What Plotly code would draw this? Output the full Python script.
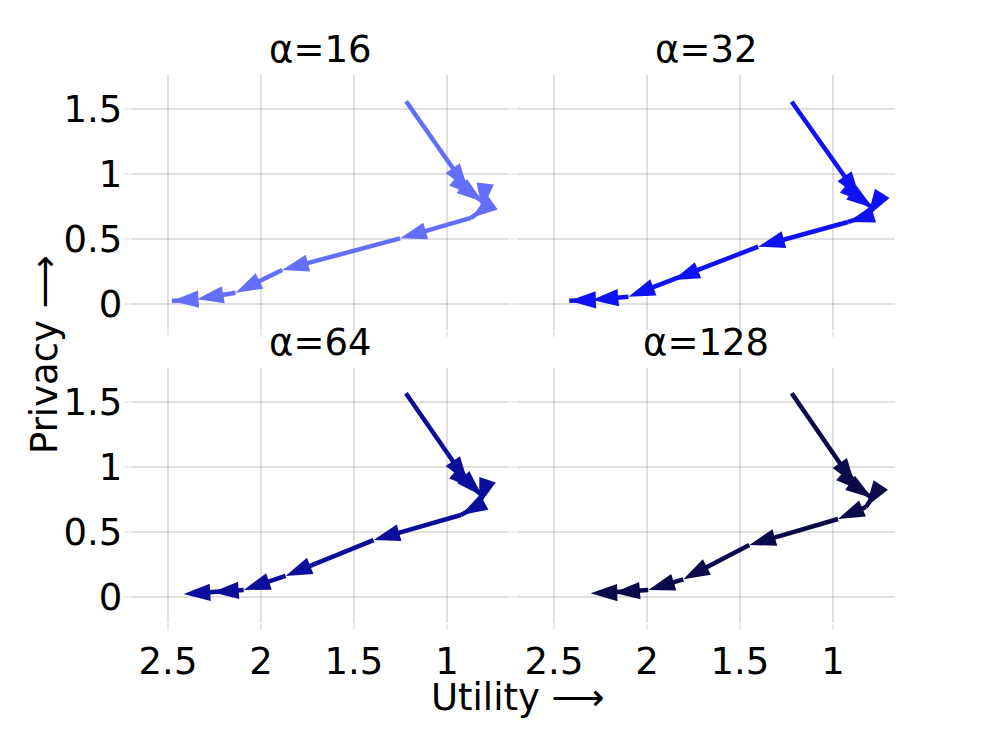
import plotly.graph_objects as go

alphas = ["α=16", "α=32", "α=64", "α=128"]
colors = ["#636EFA", "#0F12F4", "#0B0E9A", "#0A0A4B"]

utility_16 = [1.22, 0.887, 0.849, 0.806, 0.811, 0.871, 1.252, 1.886, 2.137, 2.344, 2.479]
privacy_16 = [1.56, 0.877, 0.831, 0.785, 0.723, 0.662, 0.505, 0.262, 0.087, 0.036, 0.023]

utility_32 = [1.222, 0.855, 0.823, 0.785, 0.812, 0.919, 1.402, 1.859, 2.10, 2.297, 2.418]
privacy_32 = [1.556, 0.815, 0.777, 0.738, 0.677, 0.631, 0.441, 0.185, 0.056, 0.031, 0.025]

utility_64 = [1.221, 0.887, 0.849, 0.811, 0.827, 0.925, 1.395, 1.868, 2.093, 2.263, 2.416]
privacy_64 = [1.567, 0.877, 0.831, 0.777, 0.708, 0.631, 0.438, 0.162, 0.054, 0.036, 0.023]

utility_128 = [1.222, 0.882, 0.844, 0.79, 0.823, 0.973, 1.45, 1.805, 1.993, 2.181, 2.303]
privacy_128 = [1.567, 0.862, 0.815, 0.762, 0.692, 0.60, 0.40, 0.136, 0.054, 0.033, 0.028]

x_ticks = [2.5, 2, 1.5, 1]
x_tick_labels = ["2.5", "2", "1.5", "1"]
y_ticks = [0, 0.5, 1, 1.5]
y_tick_labels = ["0", "0.5", "1", "1.5"]

series = [(utility_16, privacy_16), (utility_32, privacy_32),
          (utility_64, privacy_64), (utility_128, privacy_128)]

W, H = 996, 747
FONT = "DejaVu Sans"
FS = 37

# domains in paper coords (page has an 8px body margin)
xdom = [[122.8 / W, 501.3 / W], [508.8 / W, 887.3 / W]]
ydom = [[1 - 322 / H, 1 - 67.2 / H], [1 - 615 / H, 1 - 360.2 / H]]

fig = go.Figure()
for i, ((xs, ys), c) in enumerate(zip(series, colors)):
    r, col = divmod(i, 2)
    ax = "" if i == 0 else str(i + 1)
    sizes = [0] + [28] * (len(xs) - 1)
    fig.add_trace(go.Scatter(
        x=xs, y=ys, mode="lines+markers",
        line=dict(color=c, width=4.5),
        marker=dict(symbol="arrow", angleref="previous", size=sizes, color=c,
                    opacity=1, line=dict(width=0)),
        xaxis="x" + ax, yaxis="y" + ax, showlegend=False,
        hoverinfo="skip",
    ))
    axis_common = dict(showgrid=True, gridcolor="rgba(0,0,0,0.12)", gridwidth=2,
                       zeroline=False, showline=False, ticks="outside", ticklen=6,
                       tickwidth=2, tickcolor="rgba(0,0,0,0.08)",
                       tickfont=dict(family=FONT, size=FS, color="black"))
    xa = dict(axis_common, domain=xdom[col], range=[2.70, 0.665], anchor="y" + ax,
              tickvals=x_ticks, ticktext=x_tick_labels, showticklabels=(r == 1))
    ya = dict(axis_common, domain=ydom[r], range=[-0.2, 1.76], anchor="x" + ax,
              tickvals=y_ticks, ticktext=y_tick_labels, showticklabels=(col == 0),
              ticklabelstandoff=-6)
    fig.layout["xaxis" + ax] = xa
    fig.layout["yaxis" + ax] = ya
    fig.add_annotation(text=alphas[i], x=(xdom[col][0] + xdom[col][1]) / 2,
                       y=ydom[r][1], xref="paper", yref="paper",
                       xanchor="center", yanchor="bottom", yshift=2, showarrow=False,
                       font=dict(family=FONT, size=FS, color="black"))

fig.add_annotation(text="Utility ⟶", x=510 / W, y=1 - 689 / H, xref="paper", yref="paper",
                   xanchor="center", yanchor="middle", showarrow=False,
                   font=dict(family=FONT, size=FS, color="black"))
fig.add_annotation(text="Privacy ⟶", x=36 / W, y=1 - 347 / H, xref="paper", yref="paper",
                   xanchor="center", yanchor="middle", textangle=-90, showarrow=False,
                   font=dict(family=FONT, size=FS, color="black"))

fig.update_layout(width=W, height=H, margin=dict(l=0, r=0, t=0, b=0),
                  plot_bgcolor="white", paper_bgcolor="white",
                  font=dict(family=FONT, size=FS, color="black"))
fig.write_html("out.html")
